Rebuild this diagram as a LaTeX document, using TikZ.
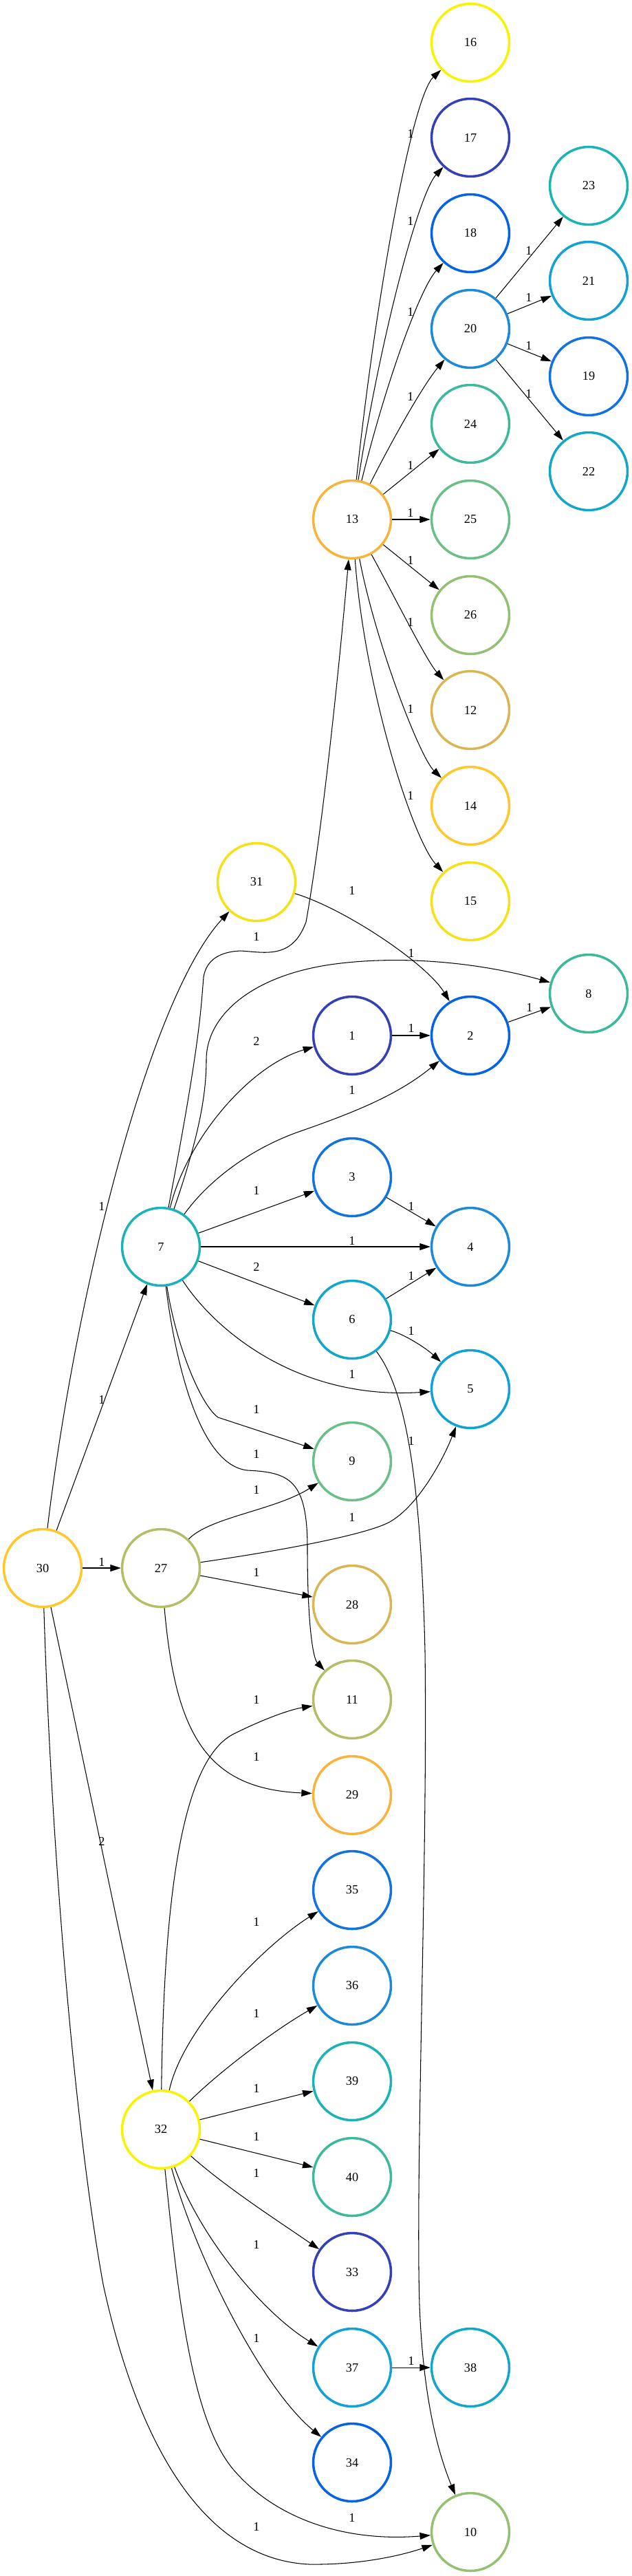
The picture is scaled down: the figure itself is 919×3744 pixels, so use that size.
\documentclass[tikz,border=0pt]{standalone}
\usepackage{fontspec}
\setmainfont{Liberation Serif}
\usetikzlibrary{arrows.meta}
\definecolor{cY}{HTML}{F8F400}
\definecolor{cY2}{HTML}{F5E11A}
\definecolor{cAmber}{HTML}{FFC82A}
\definecolor{cOrange}{HTML}{F8B33A}
\definecolor{cGold}{HTML}{D9B554}
\definecolor{cOlive}{HTML}{B5BD66}
\definecolor{cGreen3}{HTML}{93C073}
\definecolor{cGreen2}{HTML}{69BF87}
\definecolor{cGreen1}{HTML}{3CB99C}
\definecolor{cTeal}{HTML}{1CB3B6}
\definecolor{cCyan}{HTML}{13A7C7}
\definecolor{cSky}{HTML}{12A0D5}
\definecolor{cBlue4}{HTML}{1C89D9}
\definecolor{cBlue3}{HTML}{1272E0}
\definecolor{cBlue2}{HTML}{0763E6}
\definecolor{cIndigo}{HTML}{3440B6}
\begin{document}
\begin{tikzpicture}[x=0.02cm,y=-0.02cm,
  vtx/.style={circle, draw=#1, line width=2pt, minimum size=2.26cm, inner sep=0pt, font=\fontsize{10.4}{12}\selectfont},
  edge/.style={draw=black, line width=0.6pt, -{Triangle[length=8.8pt,width=5.7pt]}},
  lbl/.style={font=\fontsize{10.4}{12}\selectfont, inner sep=0pt}]
\useasboundingbox (0,0) rectangle (919,3744);
% nodes
\node[vtx=cY] (n16) at (684,62) {16};
\node[vtx=cIndigo] (n17) at (684,200) {17};
\node[vtx=cBlue2] (n18) at (684,339) {18};
\node[vtx=cBlue4] (n20) at (684,478) {20};
\node[vtx=cTeal] (n23) at (856,270) {23};
\node[vtx=cSky] (n21) at (856,408) {21};
\node[vtx=cBlue3] (n19) at (856,547) {19};
\node[vtx=cCyan] (n22) at (856,685) {22};
\node[vtx=cGreen1] (n24) at (684,616) {24};
\node[vtx=cOrange] (n13) at (512,755) {13};
\node[vtx=cGreen2] (n25) at (684,755) {25};
\node[vtx=cGreen3] (n26) at (684,894) {26};
\node[vtx=cGold] (n12) at (684,1032) {12};
\node[vtx=cAmber] (n14) at (684,1171) {14};
\node[vtx=cY2] (n15) at (684,1310) {15};
\node[vtx=cY2] (n31) at (373,1282) {31};
\node[vtx=cGreen1] (n8) at (856,1444) {8};
\node[vtx=cIndigo] (n1) at (512,1505) {1};
\node[vtx=cBlue2] (n2) at (684,1505) {2};
\node[vtx=cBlue3] (n3) at (512,1711) {3};
\node[vtx=cTeal] (n7) at (234,1812) {7};
\node[vtx=cBlue4] (n4) at (684,1812) {4};
\node[vtx=cCyan] (n6) at (512,1918) {6};
\node[vtx=cSky] (n5) at (684,2019) {5};
\node[vtx=cGreen2] (n9) at (512,2124) {9};
\node[vtx=cAmber] (n30) at (62,2279) {30};
\node[vtx=cOlive] (n27) at (234,2279) {27};
\node[vtx=cGold] (n28) at (512,2332) {28};
\node[vtx=cOlive] (n11) at (512,2470) {11};
\node[vtx=cOrange] (n29) at (512,2609) {29};
\node[vtx=cBlue3] (n35) at (512,2747) {35};
\node[vtx=cBlue4] (n36) at (512,2886) {36};
\node[vtx=cTeal] (n39) at (512,3025) {39};
\node[vtx=cY] (n32) at (234,3095) {32};
\node[vtx=cGreen1] (n40) at (512,3164) {40};
\node[vtx=cIndigo] (n33) at (512,3302) {33};
\node[vtx=cSky] (n37) at (512,3441) {37};
\node[vtx=cCyan] (n38) at (684,3441) {38};
\node[vtx=cBlue2] (n34) at (512,3579) {34};
\node[vtx=cGreen3] (n10) at (684,3680) {10};
% edges from 13
\draw[edge] (n13) .. controls (548,420) and (600,140) .. (n16);
\draw[edge] (n13) .. controls (555,480) and (610,280) .. (n17);
\draw[edge] (n13) .. controls (560,560) and (610,420) .. (n18);
\draw[edge] (n13) .. controls (570,640) and (615,560) .. (n20);
\draw[edge] (n13) -- (n24);
\draw[edge] (n13) -- (n25);
\draw[edge] (n13) -- (n26);
\draw[edge] (n13) .. controls (570,860) and (620,960) .. (n12);
\draw[edge] (n13) .. controls (545,930) and (610,1100) .. (n14);
\draw[edge] (n13) .. controls (530,1000) and (600,1220) .. (n15);
% edges from 20
\draw[edge] (n20) -- (n23);
\draw[edge] (n20) -- (n21);
\draw[edge] (n20) -- (n19);
\draw[edge] (n20) -- (n22);
% 31, 1, 2, 3, 6
\draw[edge] (n31) .. controls (500,1320) and (620,1400) .. (n2);
\draw[edge] (n1) -- (n2);
\draw[edge] (n2) -- (n8);
\draw[edge] (n3) -- (n4);
\draw[edge] (n6) -- (n4);
\draw[edge] (n6) .. controls (590,1940) and (620,1960) .. (n5);
\draw[edge] (n6) .. controls (590,2020) and (612,2150) .. (618,2400)
  .. controls (622,2700) and (604,3150) .. (610,3350)
  .. controls (615,3480) and (635,3560) .. (n10);
% edges from 7
\draw[edge] (n7) .. controls (290,1520) and (292,1470) .. (296,1420)
  .. controls (300,1395) and (320,1383) .. (350,1382)
  .. controls (385,1384) and (425,1395) .. (445,1340)
  .. controls (470,1200) and (495,950) .. (n13);
\draw[edge] (n7) .. controls (290,1650) and (300,1590) .. (300,1540)
  .. controls (300,1480) and (360,1420) .. (480,1402)
  .. controls (600,1385) and (720,1405) .. (n8);
\draw[edge] (n7) .. controls (270,1660) and (360,1550) .. (n1);
\draw[edge] (n7) .. controls (300,1720) and (360,1670) .. (440,1643)
  .. controls (520,1615) and (580,1590) .. (n2);
\draw[edge] (n7) -- (n3);
\draw[edge] (n7) -- (n4);
\draw[edge] (n7) -- (n6);
\draw[edge] (n7) .. controls (310,1930) and (430,2035) .. (n5);
\draw[edge] (n7) .. controls (255,1950) and (290,2040) .. (317,2060) -- (n9);
\draw[edge] (n7) .. controls (255,1980) and (290,2130) .. (360,2137)
  .. controls (420,2140) and (447,2150) .. (447,2250)
  .. controls (447,2360) and (455,2410) .. (n11);
% edges from 30
\draw[edge] (n30) .. controls (110,1880) and (217,1450) .. (n31);
\draw[edge] (n30) -- (n7);
\draw[edge] (n30) -- (n27);
\draw[edge] (n30) -- (n32);
\draw[edge] (n30) .. controls (75,2700) and (110,3100) .. (150,3320)
  .. controls (200,3550) and (295,3720) .. (450,3727)
  .. controls (530,3728) and (590,3712) .. (n10);
% edges from 27
\draw[edge] (n27) .. controls (305,2205) and (400,2195) .. (n9);
\draw[edge] (n27) .. controls (400,2255) and (540,2230) .. (570,2210)
  .. controls (610,2185) and (645,2120) .. (n5);
\draw[edge] (n27) -- (n28);
\draw[edge] (n27) .. controls (255,2520) and (300,2600) .. (n29);
% edges from 32
\draw[edge] (n32) .. controls (238,2780) and (260,2560) .. (340,2520)
  .. controls (380,2500) and (420,2485) .. (n11);
\draw[edge] (n32) .. controls (265,2950) and (380,2830) .. (n35);
\draw[edge] (n32) .. controls (320,3010) and (400,2950) .. (n36);
\draw[edge] (n32) -- (n39);
\draw[edge] (n32) -- (n40);
\draw[edge] (n32) .. controls (330,3180) and (400,3225) .. (n33);
\draw[edge] (n32) .. controls (290,3250) and (380,3360) .. (n37);
\draw[edge] (n32) .. controls (285,3280) and (380,3470) .. (n34);
\draw[edge] (n32) .. controls (260,3350) and (280,3520) .. (340,3590)
  .. controls (400,3660) and (500,3695) .. (n10);
\draw[edge] (n37) -- (n38);
% edge labels
\node[lbl] (la1) at (597,194) {1};
\node[lbl] (la2) at (597,321) {1};
\node[lbl] (la3) at (597,453) {1};
\node[lbl] (la4) at (597,576) {1};
\node[lbl] (la5) at (597,676) {1};
\node[lbl] (la6) at (597,745) {1};
\node[lbl] (la7) at (597,814) {1};
\node[lbl] (la8) at (597,904) {1};
\node[lbl] (la9) at (597,1030) {1};
\node[lbl] (la10) at (597,1156) {1};
\node[lbl] (lb1) at (769,364) {1};
\node[lbl] (lb2) at (769,432) {1};
\node[lbl] (lb3) at (769,502) {1};
\node[lbl] (lb4) at (769,572) {1};
\node[lbl] (lc1) at (512,1294) {1};
\node[lbl] (lc2) at (373,1361) {1};
\node[lbl] (lc3) at (598,1385) {1};
\node[lbl] (lc4) at (373,1513) {2};
\node[lbl] (lc5) at (598,1494) {1};
\node[lbl] (lc6) at (512,1584) {1};
\node[lbl] (lc7) at (770,1464) {1};
\node[lbl] (lc8) at (373,1730) {1};
\node[lbl] (lc9) at (598,1753) {1};
\node[lbl] (lc10) at (512,1803) {1};
\node[lbl] (lc11) at (373,1841) {2};
\node[lbl] (lc12) at (598,1854) {1};
\node[lbl] (lc13) at (598,1934) {1};
\node[lbl] (lc14) at (512,1997) {1};
\node[lbl] (ld1) at (148,1753) {1};
\node[lbl] (ld2) at (148,2034) {1};
\node[lbl] (ld3) at (373,2048) {1};
\node[lbl] (ld4) at (598,2094) {1};
\node[lbl] (ld5) at (373,2113) {1};
\node[lbl] (ld6) at (373,2165) {1};
\node[lbl] (ld7) at (512,2205) {1};
\node[lbl] (ld8) at (148,2270) {1};
\node[lbl] (ld9) at (373,2285) {1};
\node[lbl] (ld10) at (373,2470) {1};
\node[lbl] (ld11) at (373,2553) {1};
\node[lbl] (ld12) at (148,2676) {2};
\node[lbl] (le1) at (373,2793) {1};
\node[lbl] (le2) at (373,2926) {1};
\node[lbl] (le3) at (373,3035) {1};
\node[lbl] (le4) at (373,3105) {1};
\node[lbl] (le5) at (373,3158) {1};
\node[lbl] (le6) at (373,3262) {1};
\node[lbl] (le7) at (373,3398) {1};
\node[lbl] (le8) at (598,3431) {1};
\node[lbl] (le9) at (512,3659) {1};
\node[lbl] (le10) at (373,3672) {1};
\end{tikzpicture}
\end{document}
